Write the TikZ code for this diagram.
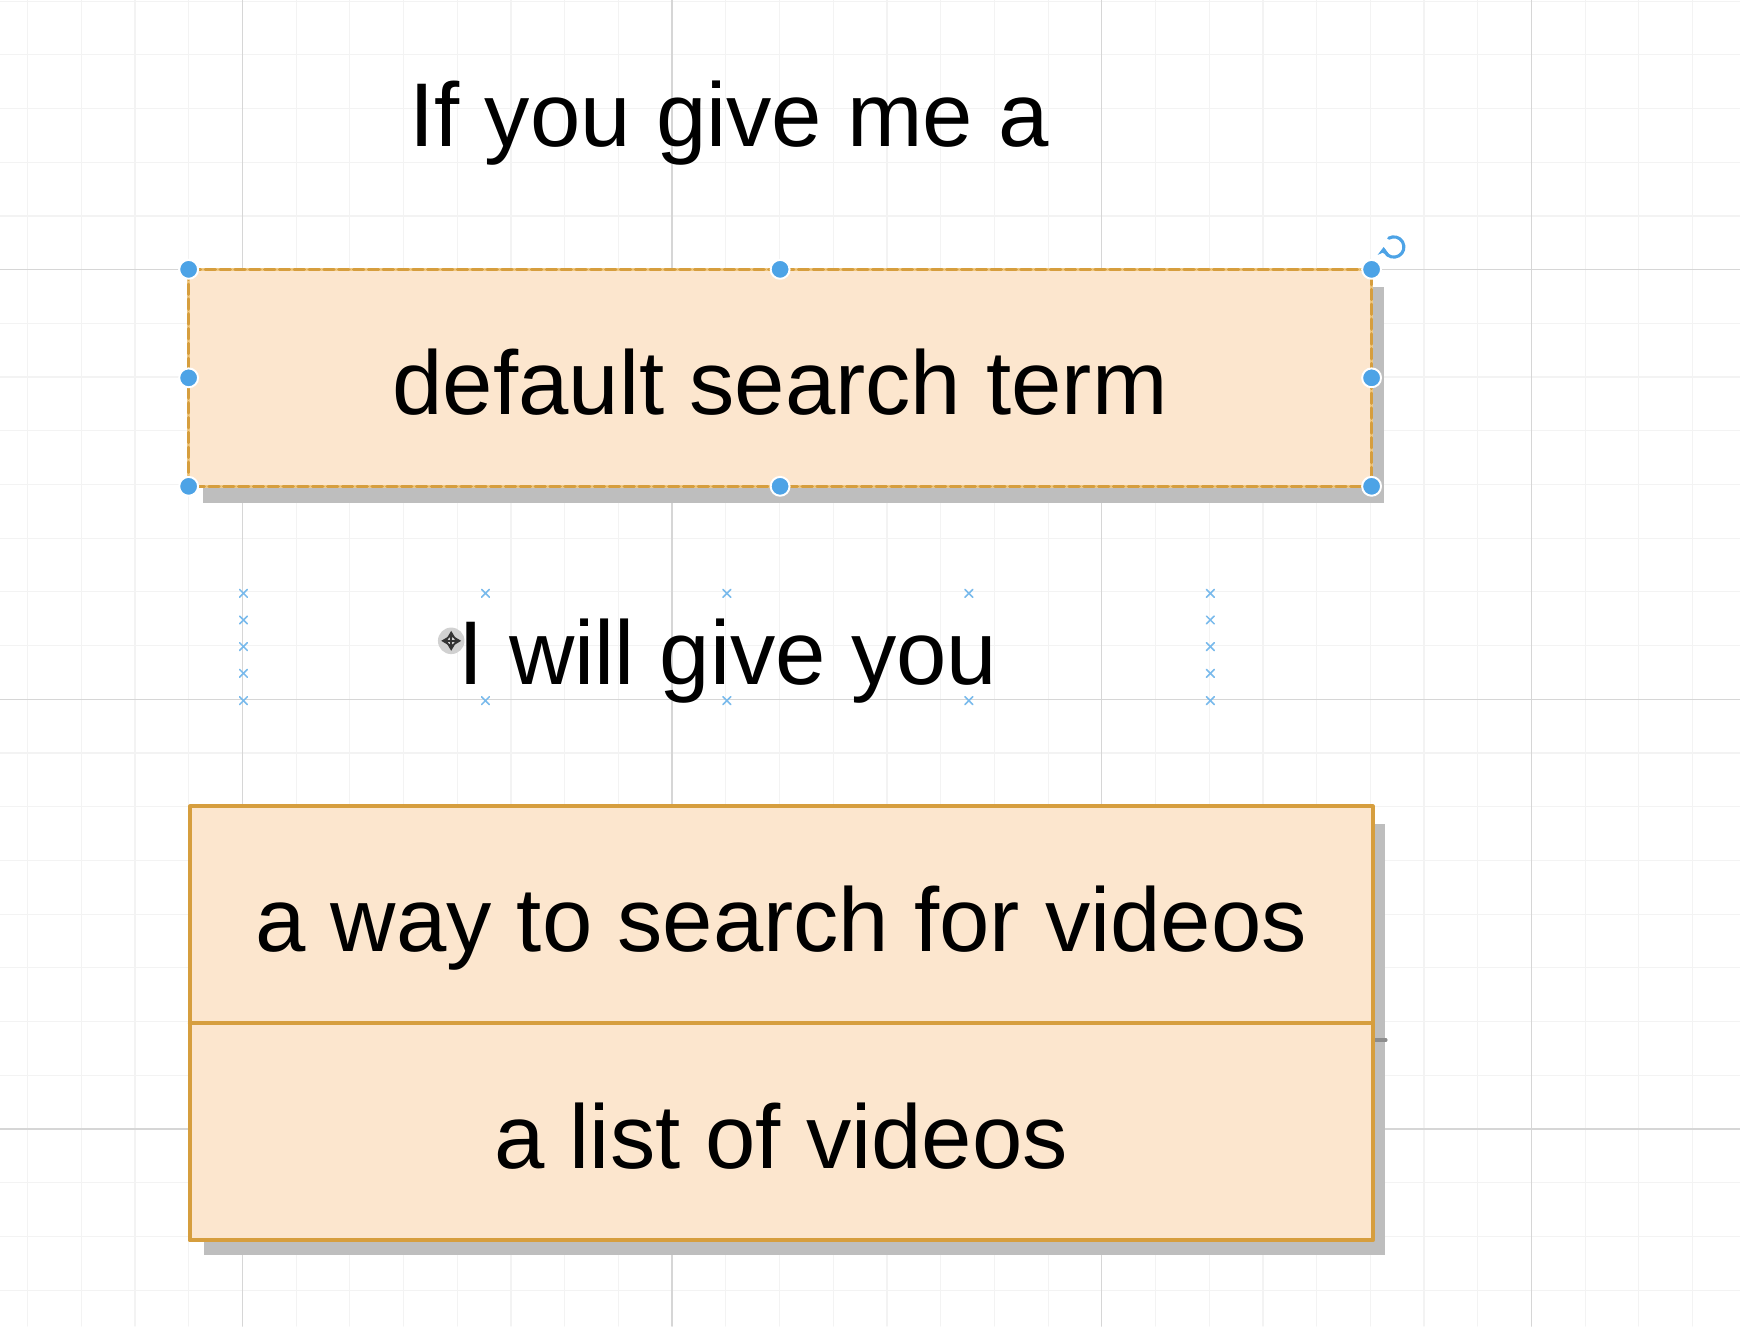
\documentclass[tikz,border=0pt]{standalone}
\usepackage{fontspec}
\setmainfont{Liberation Sans}
\usetikzlibrary{positioning,arrows.meta}
\definecolor{peach}{RGB}{252,230,206}
\definecolor{amber}{RGB}{214,158,62}
\definecolor{amberlight}{RGB}{240,200,130}
\definecolor{handle}{RGB}{77,163,230}
\definecolor{gridminor}{RGB}{243,243,243}
\definecolor{gridmajor}{RGB}{214,214,214}
\definecolor{shadowgray}{RGB}{190,190,190}
\begin{document}
\begin{tikzpicture}[x=0.01cm, y=-0.01cm, font=\fontsize{23.2}{28}\selectfont, line join=round, line cap=round, >=Stealth,
		lbl/.style={inner sep=0pt},
		card/.style={fill=peach, minimum width=10.64cm, minimum height=1.94cm, inner sep=0pt, text height=18.9pt, text depth=0pt},
		dot/.style={circle, fill=handle, draw=white, line width=0.5pt, minimum size=0.17cm, inner sep=0pt},
		guide/.style={handle!75, line width=0.4pt}]
	\def\W{1568}\def\H{1195}
	\useasboundingbox (0,0) rectangle (\W,\H);
	\fill[white] (0,0) rectangle (\W,\H);
	% grid
	\foreach \k in {0,...,31} \draw[gridminor, line width=0.3pt] ({24.9+48.4*\k},0)--({24.9+48.4*\k},\H);
	\foreach \k in {0,...,24} \draw[gridminor, line width=0.3pt] (0,{1+48.4*\k})--(\W,{1+48.4*\k});
	\foreach \k in {0,...,3} \draw[gridmajor, line width=0.35pt] ({218.5+387.2*\k},0)--({218.5+387.2*\k},\H);
	\foreach \k in {0,...,2} \draw[gridmajor, line width=0.35pt] (0,{243+387.2*\k})--(\W,{243+387.2*\k});
	% shadows
	\fill[shadowgray] (183,258.5) rectangle (1247,453.5);
	\fill[shadowgray] (184,743) rectangle (1248,1131);
	% texts and boxes
	\node[lbl, anchor=base] (ask) at (657,132.2) {If you give me a};
	\node[card] (term) at (703,340.5) {default search term};
	\draw[amberlight, line width=0.85pt] (term.north west) rectangle (term.south east);
	\draw[amber, line width=0.85pt, dash pattern=on 2.6pt off 1.2pt] (term.north west) rectangle (term.south east);
	\foreach \p [count=\i] in {north west,north,north east,east,south east,south,south west,west}
		\node[dot] (h\i) at (term.\p) {};
	\coordinate (rot) at (1256,222.6);
	\draw[handle, line width=0.8pt, -{Stealth[length=2pt,width=3pt]}] ([shift={(120:2.6pt)}]rot) arc[start angle=120, end angle=-180, radius=2.6pt];
	\node[lbl, anchor=base] (offer) at (656,616.4) {I will give you};
	\foreach \x in {219.4,1090.7} \foreach \y in {534.7,558.7,582.7,606.8,631.4}
		\draw[guide] (\x-3.5,\y-3.5)--(\x+3.5,\y+3.5) (\x-3.5,\y+3.5)--(\x+3.5,\y-3.5);
	\foreach \x in {437.5,655,873.1} \foreach \y in {534.7,631.4}
		\draw[guide] (\x-3.5,\y-3.5)--(\x+3.5,\y+3.5) (\x-3.5,\y+3.5)--(\x+3.5,\y-3.5);
	\coordinate (grab) at (406.6,577.5);
	\fill[black!18] (grab) circle[radius=3.4pt];
	\draw[black!80, line width=0.6pt, {Stealth[length=2.2pt,width=2.6pt]}-{Stealth[length=2.2pt,width=2.6pt]}] ([shift={(-9,0)}]grab)--([shift={(9,0)}]grab);
	\draw[black!80, line width=0.6pt, {Stealth[length=2.2pt,width=2.6pt]}-{Stealth[length=2.2pt,width=2.6pt]}] ([shift={(0,-9)}]grab)--([shift={(0,9)}]grab);
	\node[card] (way) at (704,824.5) {a way to search for videos};
	\node[card, below=0pt of way] (list) {a list of videos};
	\draw[black!45, line width=0.8pt] ([shift={(1,15)}]way.south east)--++(11,0);
	\draw[amber, line width=1pt] (way.north west) rectangle (list.south east);
	\draw[amber, line width=1pt] (way.south west)--(way.south east);
\end{tikzpicture}
\end{document}
